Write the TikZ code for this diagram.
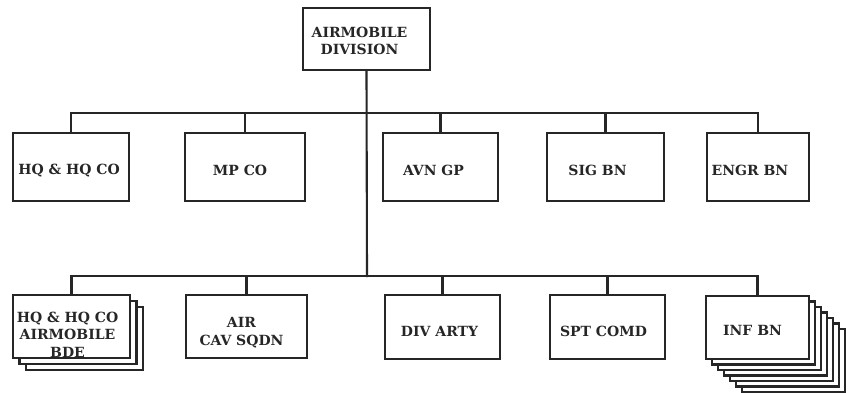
\documentclass[tikz,border=0pt]{standalone}
\usepackage{fontspec}
\setmainfont{DejaVu Serif}
\begin{document}
\begin{tikzpicture}[x=1pt,y=-1pt,
  ink/.style={draw=black!85,line width=2.1pt},
  box/.style={ink,fill=white,rectangle,inner sep=0pt},
  lab/.style={align=center,inner sep=0pt,
    font=\bfseries\fontsize{14}{17.5}\selectfont,text=black!85},
  line/.style={ink,line cap=rect}]
\useasboundingbox[fill=white] (0,0) rectangle (849,393);
% top
\node[box,minimum width=127pt,minimum height=62pt,
  label={[lab,xshift=-7pt,yshift=-2pt]center:AIRMOBILE\\DIVISION}] (top) at (366.5,39) {};
% row 1
\node[box,minimum width=116pt,minimum height=68pt,
  label={[lab,xshift=-2pt,yshift=-4pt]center:HQ \& HQ CO}] (hq) at (71,167) {};
\node[box,minimum width=120pt,minimum height=68pt,
  label={[lab,xshift=-5pt,yshift=-3pt]center:MP CO}] (mp) at (245,167) {};
\node[box,minimum width=115pt,minimum height=68pt,
  label={[lab,xshift=-7pt,yshift=-3pt]center:AVN GP}] (avn) at (440.5,167) {};
\node[box,minimum width=117pt,minimum height=68pt,
  label={[lab,xshift=-8pt,yshift=-3pt]center:SIG BN}] (sig) at (605.5,167) {};
\node[box,minimum width=102pt,minimum height=68pt,
  label={[lab,xshift=-8pt,yshift=-3pt]center:ENGR BN}] (engr) at (758,167) {};
% row 2 stacks behind
\foreach \i in {2,1}{
  \draw[ink,fill=white] (13+6.5*\i,295+6*\i) rectangle ++(117,63);}
\foreach \i in {6,5,4,3,2,1}{
  \draw[ink,fill=white] (706+6*\i,296+5.5*\i) rectangle ++(103,63);}
% row 2
\node[box,minimum width=117pt,minimum height=63pt,
  label={[lab,xshift=-4pt,yshift=-8pt]center:HQ \& HQ CO\\AIRMOBILE\\BDE}] (bde) at (71.5,326.5) {};
\node[box,minimum width=121pt,minimum height=63pt,
  label={[lab,xshift=-5pt,yshift=-6pt]center:AIR\\CAV SQDN}] (cav) at (246.5,326.5) {};
\node[box,minimum width=115pt,minimum height=64pt,
  label={[lab,xshift=-3pt,yshift=-4pt]center:DIV ARTY}] (arty) at (442.5,327) {};
\node[box,minimum width=115pt,minimum height=64pt,
  label={[lab,xshift=-4pt,yshift=-4pt]center:SPT COMD}] (spt) at (607.5,327) {};
\node[box,minimum width=103pt,minimum height=63pt,
  label={[lab,xshift=-5pt,yshift=-3pt]center:INF BN}] (inf) at (757.5,327.5) {};
% connectors
\coordinate (j1) at (367,113);
\coordinate (j2) at (367,276);
\draw[line] (top.south) -- (j2);
\draw[line] (hq.north) |- (j1) -| (engr.north);
\foreach \n in {mp,avn,sig}{\draw[line] (\n.north) -- (\n.north |- j1);}
\draw[line] (bde.north) |- (j2) -| (inf.north);
\foreach \n in {cav,arty,spt}{\draw[line] (\n.north) -- (\n.north |- j2);}
\end{tikzpicture}
\end{document}
